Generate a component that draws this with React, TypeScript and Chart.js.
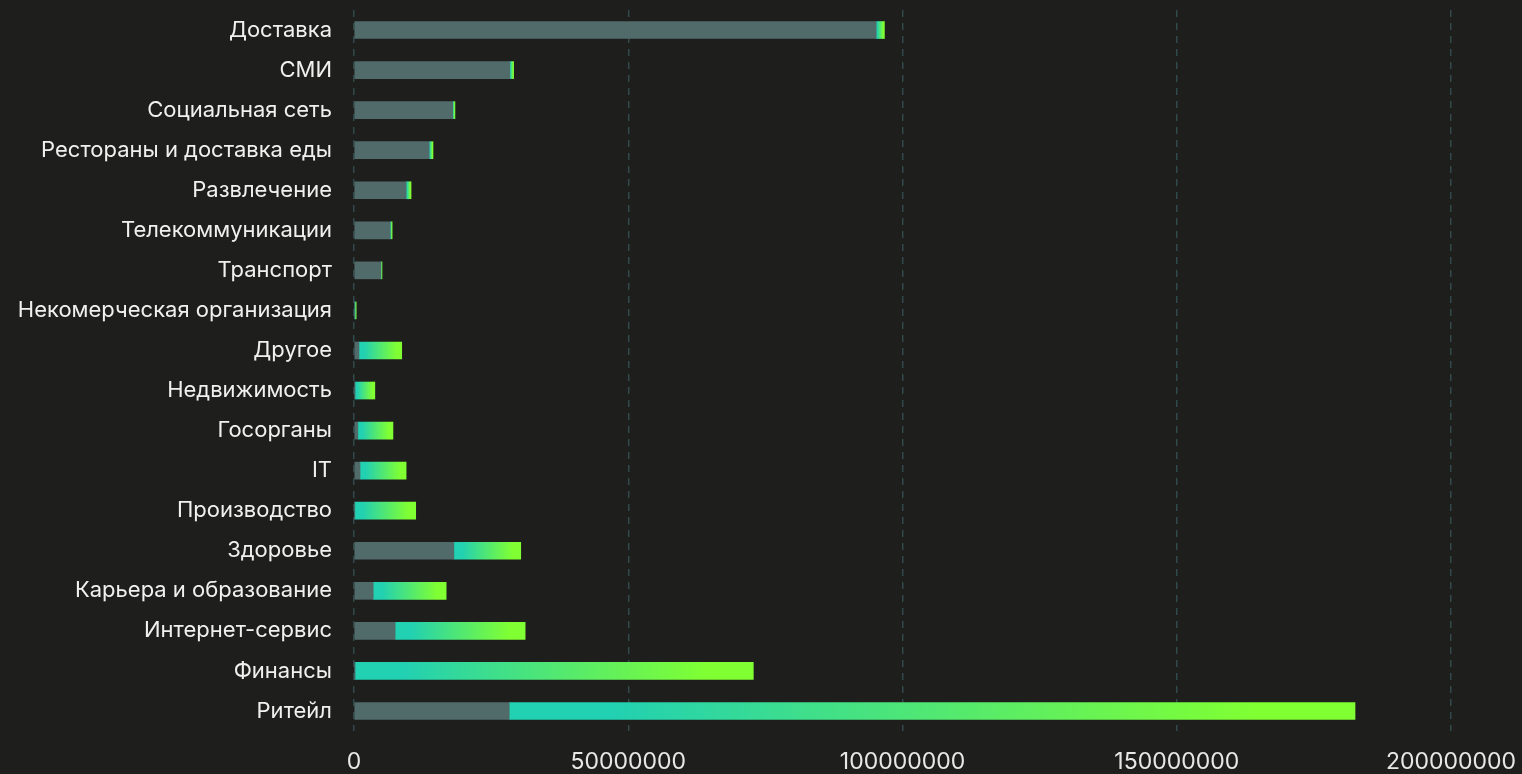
import React, { useEffect, useRef } from "react";
import { Chart, registerables } from "chart.js";

Chart.register(...registerables);

const categories = [
  "Доставка",
  "СМИ",
  "Социальная сеть",
  "Рестораны и доставка еды",
  "Развлечение",
  "Телекоммуникации",
  "Транспорт",
  "Некомерческая организация",
  "Другое",
  "Недвижимость",
  "Госорганы",
  "IT",
  "Производство",
  "Здоровье",
  "Карьера и образование",
  "Интернет-сервис",
  "Финансы",
  "Ритейл",
];

const greyValues = [
  95200000, 28400000, 18000000, 13700000, 9500000, 6600000, 4900000, 150000,
  900000, 200000, 700000, 1100000, 150000, 18200000, 3500000, 7500000, 200000,
  28300000,
];

const gradientValues = [
  1500000, 700000, 400000, 700000, 900000, 350000, 200000, 250000, 7800000,
  3600000, 6400000, 8400000, 11100000, 12200000, 13300000, 23700000, 72600000,
  154200000,
];

const xTicks = [0, 50000000, 100000000, 150000000, 200000000];

const BG = "#1e1e1c";
const GREY = "#516b6a";
const TEAL = "#22d0b2";
const GREEN = "#80ff33";
const GRID = "#30494a";

export default function App() {
  const ref = useRef<HTMLCanvasElement | null>(null);

  useEffect(() => {
    document.body.style.margin = "0";
    document.body.style.background = BG;
    const canvas = ref.current;
    if (!canvas) return;

    const gradFill = (ctx: any) => {
      const chart = ctx.chart;
      if (!chart.chartArea || ctx.type !== "data") return TEAL;
      const xs = chart.scales.x;
      const i = ctx.dataIndex;
      const x0 = xs.getPixelForValue(greyValues[i]);
      const x1 = xs.getPixelForValue(greyValues[i] + gradientValues[i]);
      if (!isFinite(x0) || !isFinite(x1) || x1 - x0 < 0.5) return TEAL;
      const g = chart.ctx.createLinearGradient(x0, 0, x1, 0);
      g.addColorStop(0, TEAL);
      g.addColorStop(0.12, TEAL);
      g.addColorStop(0.88, GREEN);
      g.addColorStop(1, GREEN);
      return g;
    };

    const chart = new Chart(canvas, {
      type: "bar",
      data: {
        labels: categories,
        datasets: [
          {
            label: "grey",
            data: greyValues,
            backgroundColor: GREY,
            borderWidth: 0,
            barThickness: 17,
          },
          {
            label: "gradient",
            data: gradientValues,
            backgroundColor: gradFill,
            borderWidth: 0,
            barThickness: 17,
          },
        ],
      },
      options: {
        indexAxis: "y",
        animation: false,
        responsive: true,
        maintainAspectRatio: false,
        layout: { padding: { top: 10, right: 71, left: 0, bottom: 0 } },
        plugins: {
          legend: { display: false },
          tooltip: { enabled: false },
        },
        scales: {
          x: {
            stacked: true,
            min: 0,
            max: 200000000,
            afterBuildTicks: (scale: any) => {
              scale.ticks = xTicks.map((v) => ({ value: v }));
            },
            afterFit: (scale: any) => {
              scale.height = 43;
              scale.paddingLeft = 0;
              scale.paddingRight = 0;
            },
            grid: {
              color: GRID,
              lineWidth: 1.5,
              drawTicks: false,
            },
            border: { display: false, dash: [7, 6] },
            ticks: {
              color: "#e8e8e8",
              padding: 17,
              maxRotation: 0,
              autoSkip: false,
              font: { family: "Inter", size: 23 },
              callback: (v: any) => String(v),
            },
          },
          y: {
            stacked: true,
            afterFit: (scale: any) => {
              scale.width = 354;
              scale.paddingTop = 0;
              scale.paddingBottom = 0;
            },
            grid: { display: false, drawTicks: false },
            border: { display: false },
            ticks: {
              color: "#f0f0f0",
              padding: 22,
              autoSkip: false,
              font: { family: "Inter", size: 22 },
            },
          },
        },
      },
    });

    return () => chart.destroy();
  }, []);

  return (
    <div style={{ width: 1522, height: 774, background: BG, position: "relative" }}>
      <canvas ref={ref} />
    </div>
  );
}
